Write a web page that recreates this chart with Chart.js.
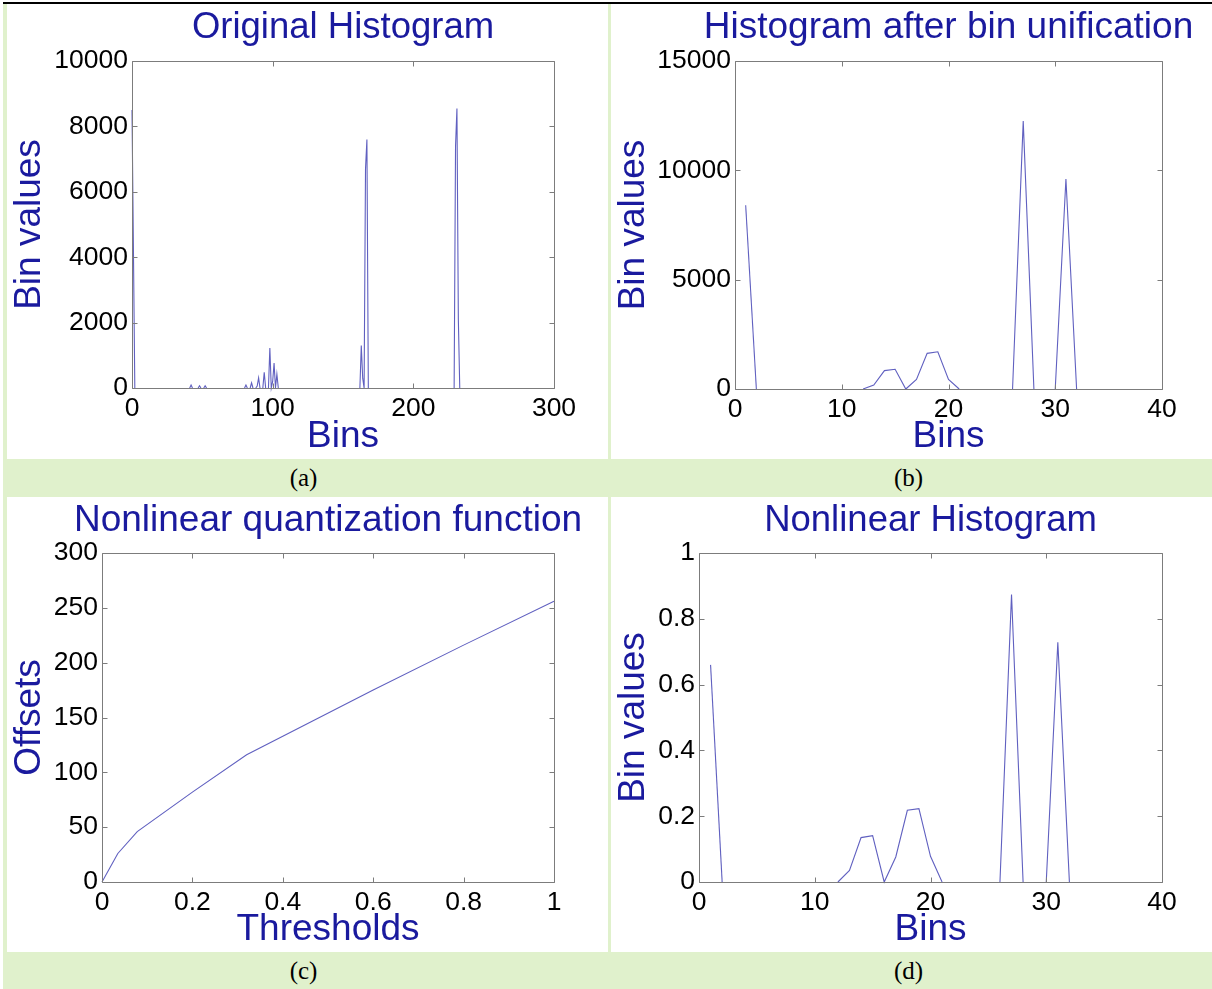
<!DOCTYPE html>
<html>
<head>
<meta charset="utf-8">
<title>Histograms</title>
<script src="https://cdn.jsdelivr.net/npm/chart.js@4.4.1/dist/chart.umd.min.js"></script>
<style>
  html, body { margin: 0; padding: 0; background: #fff; }
  body { width: 1212px; height: 989px; position: relative; overflow: hidden; }
  .rule { position: absolute; left: 3px; top: 2px; width: 1209px; height: 2px; background: #000; }
  .strip { position: absolute; background: #e0f1cc; }
  .band { position: absolute; left: 3px; width: 1209px; height: 38px; background: #e0f1cc; }
  .cap { position: absolute; top: 0; width: 601px; line-height: 38px; text-align: center;
         font-family: "Liberation Serif", "Times New Roman", serif; font-size: 25px; color: #000; }
  canvas { position: absolute; }
</style>
</head>
<body>
<div class="rule"></div>
<div class="strip" style="left:3px; top:4px; width:4px; height:985px;"></div>
<div class="strip" style="left:608px; top:4px; width:3px; height:985px;"></div>

<!-- canvases are wider than the panels: an empty right axis mirrors the left one so the title centres over the plot -->
<canvas id="chartA" width="672" height="455" style="left:7px; top:4px;"></canvas>
<canvas id="chartB" width="675" height="455" style="left:611px; top:4px;"></canvas>
<canvas id="chartC" width="642" height="455" style="left:7px; top:497px;"></canvas>
<canvas id="chartD" width="639" height="455" style="left:611px; top:497px;"></canvas>

<div class="band" style="top:459px;">
  <div class="cap" style="left:0px;">(a)</div>
  <div class="cap" style="left:605px;">(b)</div>
</div>
<div class="band" style="top:952px; height:37px;">
  <div class="cap" style="left:0px; line-height:37px;">(c)</div>
  <div class="cap" style="left:605px; line-height:37px;">(d)</div>
</div>

<script>
// (a) original 256-bin histogram, only the bins that leave the axis (plus their zero neighbours)
const origBins   = [0, 1, 2, 41, 42, 43, 47, 48, 49, 51, 52, 53,
                    80, 81, 82, 84, 85, 86, 88, 89, 90, 91, 93, 94, 95,
                    97, 98, 99, 100, 101, 102, 103, 104,
                    162, 163, 164, 165, 166, 167, 168,
                    229, 230, 231, 232, 233, 255];
const origValues = [8500, 4300, 0, 0, 90, 0, 0, 70, 0, 0, 70, 0,
                    0, 90, 0, 0, 160, 0, 0, 60, 310, 0, 0, 480, 0,
                    0, 1220, 0, 200, 760, 0, 420, 0,
                    0, 1300, 300, 0, 6700, 7600, 0,
                    0, 7400, 8550, 2100, 0, 0];

// (b) and (d) share the unified bins
const unifiedBins   = [1, 2, 3, 4, 5, 6, 7, 8, 9, 10, 11, 12, 13, 14, 15, 16,
                       17, 18, 19, 20, 21, 22, 23, 24, 25, 26, 27, 28, 29, 30, 31, 32];
const unifiedValues = [8400, 0, 0, 0, 0, 0, 0, 0, 0, 0, 0, 0, 180, 840, 900, 0,
                       440, 1630, 1700, 440, 0, 0, 0, 0, 0, 0, 12250, 0, 0, 0, 9600, 0];
const nonlinearValues = [0.66, 0, 0, 0, 0, 0, 0, 0, 0, 0, 0, 0, 0.035, 0.135, 0.141, 0,
                         0.076, 0.218, 0.223, 0.078, 0, 0, 0, 0, 0, 0, 0.874, 0, 0, 0, 0.729, 0];

// (c) quantization function
const thresholds = [0, 0.035, 0.078, 0.2, 0.32, 0.6, 0.8, 1];
const offsets    = [0, 26, 46, 82, 116, 175, 216, 256];

// axis ranges / ticks: [min, max, step]
const xTicksA = [0, 300, 100];
const yTicksA = [0, 10000, 2000];
const xTicksB = [0, 40, 10];
const yTicksB = [0, 15000, 5000];
const xTicksC = [0, 1, 0.2];
const yTicksC = [0, 300, 50];
const xTicksD = [0, 40, 10];
const yTicksD = [0, 1, 0.2];

const BLUE_TEXT = '#1a1a9e';
const LINE_COLOR = '#6060c0';
const FONT = '"Liberation Sans", Arial, Helvetica, sans-serif';
const LABEL_SIZE = 37;
const TICK_SIZE = 26.5;

// grey box with inward ticks on all four sides, like the old MATLAB axes
const boxPlugin = {
    id: 'matlabBox',
    afterDatasetsDraw(chart) {
        const {ctx, chartArea: a, scales: {x, y}} = chart;
        const l = Math.round(a.left) + 0.5, r = Math.round(a.right) + 0.5;
        const t = Math.round(a.top) + 0.5, b = Math.round(a.bottom) + 0.5;
        ctx.save();
        ctx.strokeStyle = '#7c7c7c';
        ctx.lineWidth = 1;
        ctx.beginPath();
        ctx.rect(l, t, r - l, b - t);
        x.ticks.forEach(tk => {
            const px = Math.round(x.getPixelForValue(tk.value)) + 0.5;
            ctx.moveTo(px, b); ctx.lineTo(px, b - 5);
            ctx.moveTo(px, t); ctx.lineTo(px, t + 5);
        });
        y.ticks.forEach(tk => {
            const py = Math.round(y.getPixelForValue(tk.value)) + 0.5;
            ctx.moveTo(l, py); ctx.lineTo(l + 5, py);
            ctx.moveTo(r, py); ctx.lineTo(r - 5, py);
        });
        ctx.stroke();
        ctx.restore();
    }
};

function fmt(v) {
    return String(Number(v.toFixed(3)));
}

function axis(range, title, fitSize, isX) {
    return {
        type: 'linear',
        min: range[0],
        max: range[1],
        afterFit(scale) {
            if (isX) scale.height = fitSize; else scale.width = fitSize;
        },
        grid: { display: false, drawTicks: false },
        border: { display: false },
        ticks: {
            stepSize: range[2],
            autoSkip: false,
            maxRotation: 0,
            padding: isX ? 5 : 4,
            color: '#000',
            font: { family: FONT, size: TICK_SIZE },
            callback: fmt
        },
        title: {
            display: true,
            text: title,
            color: BLUE_TEXT,
            font: { family: FONT, size: LABEL_SIZE, lineHeight: 1 },
            padding: isX ? { top: 0, bottom: 4 } : { top: 4.5, bottom: 0 }
        }
    };
}

// empty right-hand axis, same width as the left one
function spacer(width) {
    return {
        type: 'linear',
        position: 'right',
        min: 0,
        max: 1,
        afterFit(scale) { scale.width = width; },
        grid: { display: false, drawTicks: false },
        border: { display: false },
        ticks: { display: false }
    };
}

// area = [left, right, top, bottom] of the plot box inside the canvas
function makePanel(id, xs, ys, xRange, yRange, title, titleSize, xTitle, yTitle, area) {
    const canvas = document.getElementById(id);
    const points = xs.map((v, i) => ({ x: v, y: ys[i] }));
    const titleTop = 23.5 - titleSize / 2;
    return new Chart(canvas.getContext('2d'), {
        type: 'line',
        data: {
            datasets: [{
                data: points,
                yAxisID: 'y',
                borderColor: LINE_COLOR,
                borderWidth: 1.1,
                pointRadius: 0,
                tension: 0,
                fill: false,
                clip: false,
                // runs lying on the zero line sit under the axis in the original
                segment: {
                    borderColor: c => (c.p0.parsed.y === 0 && c.p1.parsed.y === 0) ? 'rgba(0,0,0,0)' : LINE_COLOR
                }
            }]
        },
        options: {
            responsive: false,
            animation: false,
            devicePixelRatio: 1,
            layout: { padding: { left: 0, right: canvas.width - area[1] - area[0], top: 0, bottom: 0 } },
            plugins: {
                legend: { display: false },
                tooltip: { enabled: false },
                title: {
                    display: true,
                    text: title,
                    color: BLUE_TEXT,
                    font: { family: FONT, size: titleSize, weight: 'normal', lineHeight: 1 },
                    padding: { top: titleTop, bottom: area[2] - titleSize - titleTop }
                }
            },
            scales: {
                x: axis(xRange, xTitle, canvas.height - area[3], true),
                y: axis(yRange, yTitle, area[0], false),
                yPad: spacer(area[0])
            }
        },
        plugins: [boxPlugin]
    });
}

makePanel('chartA', origBins, origValues, xTicksA, yTicksA,
    'Original Histogram', 36.5, 'Bins', 'Bin values', [125, 547, 57, 384]);
makePanel('chartB', unifiedBins, unifiedValues, xTicksB, yTicksB,
    'Histogram after bin unification', 37, 'Bins', 'Bin values', [124, 551, 57, 385]);
makePanel('chartC', thresholds, offsets, xTicksC, yTicksC,
    'Nonlinear quantization function', 37, 'Thresholds', 'Offsets', [95, 547, 56, 385]);
makePanel('chartD', unifiedBins, nonlinearValues, xTicksD, yTicksD,
    'Nonlinear Histogram', 36.5, 'Bins', 'Bin values', [88, 551, 56, 385]);
</script>
</body>
</html>
